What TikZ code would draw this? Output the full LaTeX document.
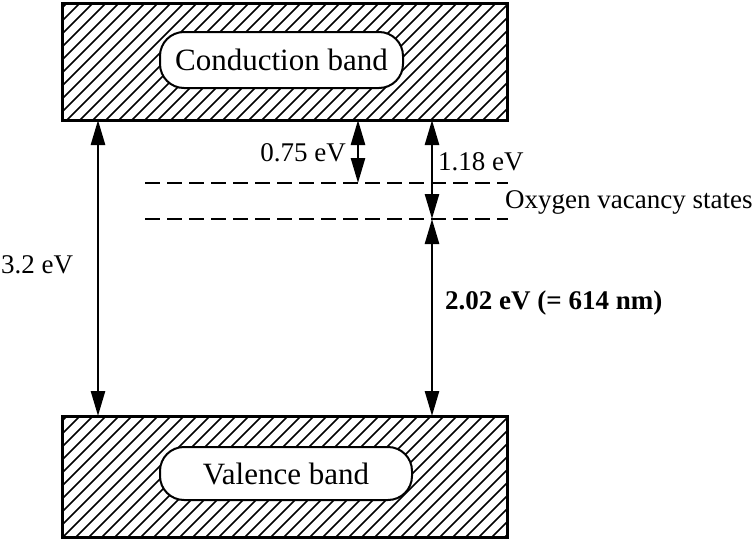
\documentclass[tikz,border=0pt]{standalone}
\usepackage{fontspec}
\setmainfont{Liberation Serif}
\usetikzlibrary{arrows.meta}
\begin{document}
\begin{tikzpicture}[x=1pt,y=-1pt,
  band/.style={draw=black,line width=3pt,minimum width=445pt,inner sep=0pt,outer sep=0pt},
  pill/.style={draw=black,line width=2pt,fill=white,rounded corners=24pt,inner sep=0pt,font=\fontsize{31}{34}\selectfont},
  lbl/.style={inner sep=0pt,font=\fontsize{27}{30}\selectfont},
  gap/.style={line width=2.6pt,{Triangle[length=25pt,width=14pt]}-{Triangle[length=25pt,width=14pt]}},
  lvl/.style={line width=2.4pt,dash pattern=on 15pt off 7pt},
  hatch/.style={line width=1.6pt}]
\useasboundingbox (0,0) rectangle (756,541);
% bands
\node[band,minimum height=117pt] (cb) at (284.5,61.5) {};
\node[band,minimum height=121pt] (vb) at (284.5,476.5) {};
\begin{scope}
  \clip (62,3) rectangle (507,120);
  \foreach \i in {-10,...,40} {\draw[hatch] (62+13*\i,125) -- (62+13*\i+130,-5);}
\end{scope}
\begin{scope}
  \clip (62,416) rectangle (507,537);
  \foreach \i in {-12,...,40} {\draw[hatch] (62+13*\i+6,545) -- (62+13*\i+6+140,405);}
\end{scope}
\node[band,minimum height=117pt] at (cb) {};
\node[band,minimum height=121pt] at (vb) {};
\node[pill,minimum width=243pt,minimum height=56pt] (cbl) at (281.5,60) {Conduction band};
\node[pill,minimum width=252pt,minimum height=53pt] (vbl) at (286,473.5) {Valence band};
% defect levels
\coordinate (d1a) at (145,183); \coordinate (d1b) at (508,183);
\coordinate (d2a) at (145,219); \coordinate (d2b) at (508,219);
\draw[lvl] (d1a) -- (d1b);
\draw[lvl] (d2a) -- (d2b);
% arrows
\coordinate (a1t) at (98,120);  \coordinate (a1b) at (98,416);
\coordinate (a2t) at (358,120); \coordinate (a2b) at (358,183);
\coordinate (a3t) at (432,120); \coordinate (a3m) at (432,219); \coordinate (a3b) at (432,416);
\draw[gap] (a1t) -- (a1b);
\draw[gap] (a2t) -- (a2b);
\draw[gap] (a3t) -- (a3m);
\draw[gap] (a3m) -- (a3b);
% labels
\node[lbl,anchor=west] (l32) at (1,265) {3.2 eV};
\node[lbl,anchor=east] (l075) at (346,153) {0.75 eV};
\node[lbl,anchor=west] (l118) at (438,162) {1.18 eV};
\node[lbl,anchor=west] (lox) at (505,202) {Oxygen vacancy states};
\node[lbl,anchor=west,font=\fontsize{27}{30}\selectfont\bfseries] (l202) at (445,303) {2.02 eV (= 614 nm)};
\end{tikzpicture}
\end{document}
